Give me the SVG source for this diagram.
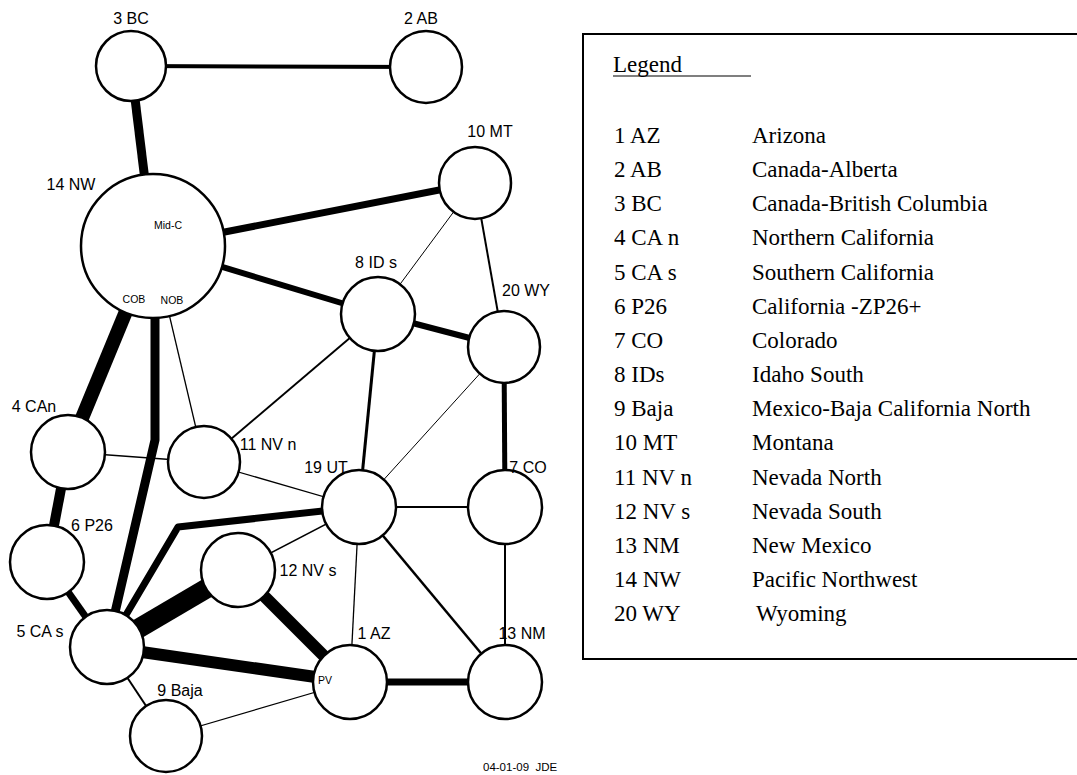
<svg xmlns="http://www.w3.org/2000/svg" width="1077" height="775" viewBox="0 0 1077 775">
<style>
.n{fill:#fff;stroke:#000;stroke-width:2.5}
.lb{font-family:"Liberation Sans",Arial,sans-serif;font-size:16px;fill:#000}
.sm{font-family:"Liberation Sans",Arial,sans-serif;font-size:10.5px;fill:#000}
.e{fill:none;stroke:#000;stroke-linejoin:round}
.lg{font-family:"Liberation Serif","Times New Roman",serif;font-size:23px;fill:#000}
</style>
<rect width="1077" height="775" fill="#fff"/>
<g id="connectors">
<line class="e" x1="131" y1="66" x2="426" y2="67" stroke-width="4"/>
<line class="e" x1="131" y1="66" x2="153" y2="246" stroke-width="9"/>
<line class="e" x1="153" y1="246" x2="475" y2="183" stroke-width="7"/>
<line class="e" x1="153" y1="246" x2="378" y2="314" stroke-width="6"/>
<line class="e" x1="475" y1="183" x2="378" y2="314" stroke-width="1"/>
<line class="e" x1="475" y1="183" x2="504" y2="347" stroke-width="2"/>
<line class="e" x1="378" y1="314" x2="504" y2="347" stroke-width="6"/>
<line class="e" x1="378" y1="314" x2="204" y2="462" stroke-width="2"/>
<line class="e" x1="378" y1="314" x2="359" y2="507" stroke-width="3"/>
<line class="e" x1="504" y1="347" x2="359" y2="507" stroke-width="1"/>
<line class="e" x1="504" y1="347" x2="505" y2="507" stroke-width="5"/>
<line class="e" x1="153" y1="246" x2="68" y2="452" stroke-width="14"/>
<polyline class="e" points="155,300 155,440 107,647" stroke-width="9"/>
<line class="e" x1="153" y1="246" x2="204" y2="462" stroke-width="1.3"/>
<line class="e" x1="68" y1="452" x2="204" y2="462" stroke-width="1.3"/>
<line class="e" x1="68" y1="452" x2="47" y2="562" stroke-width="10"/>
<line class="e" x1="47" y1="562" x2="107" y2="647" stroke-width="7"/>
<line class="e" x1="204" y1="462" x2="359" y2="507" stroke-width="1.3"/>
<line class="e" x1="359" y1="507" x2="505" y2="507" stroke-width="2"/>
<line class="e" x1="359" y1="507" x2="238" y2="570" stroke-width="1.5"/>
<line class="e" x1="359" y1="507" x2="350" y2="682" stroke-width="1.3"/>
<line class="e" x1="359" y1="507" x2="505" y2="682" stroke-width="2.5"/>
<line class="e" x1="505" y1="507" x2="505" y2="682" stroke-width="2"/>
<polyline class="e" points="107,647 178,527 359,507" stroke-width="7"/>
<line class="e" x1="107" y1="647" x2="238" y2="570" stroke-width="20"/>
<line class="e" x1="238" y1="570" x2="350" y2="682" stroke-width="12"/>
<line class="e" x1="107" y1="647" x2="350" y2="682" stroke-width="12"/>
<line class="e" x1="350" y1="682" x2="505" y2="682" stroke-width="7"/>
<line class="e" x1="107" y1="647" x2="166" y2="736" stroke-width="2"/>
<line class="e" x1="166" y1="736" x2="350" y2="682" stroke-width="1.3"/>
</g>
<g id="n3"><circle class="n" cx="131" cy="66" r="35"/><text class="lb" x="131" y="24" text-anchor="middle">3 BC</text></g>
<g id="n2"><circle class="n" cx="426" cy="67" r="36"/><text class="lb" x="421" y="24" text-anchor="middle">2 AB</text></g>
<g id="n10"><circle class="n" cx="475" cy="183" r="36"/><text class="lb" x="490" y="137" text-anchor="middle">10 MT</text></g>
<g id="n14"><circle class="n" cx="153" cy="246" r="72"/><text class="lb" x="71" y="190" text-anchor="middle">14 NW</text>
<text class="sm" x="168" y="229" text-anchor="middle">Mid-C</text>
<text class="sm" x="134" y="303" text-anchor="middle">COB</text>
<text class="sm" x="172" y="304" text-anchor="middle">NOB</text></g>
<g id="n8"><circle class="n" cx="378" cy="314" r="37"/><text class="lb" x="376" y="268" text-anchor="middle">8 ID s</text></g>
<g id="n20"><circle class="n" cx="504" cy="347" r="36"/><text class="lb" x="526" y="296" text-anchor="middle">20 WY</text></g>
<g id="n4"><circle class="n" cx="68" cy="452" r="37"/><text class="lb" x="34" y="412" text-anchor="middle">4 CAn</text></g>
<g id="n11"><circle class="n" cx="204" cy="462" r="36"/><text class="lb" x="268" y="450" text-anchor="middle">11 NV n</text></g>
<g id="n19"><circle class="n" cx="359" cy="507" r="37"/><text class="lb" x="326" y="473" text-anchor="middle">19 UT</text></g>
<g id="n7"><circle class="n" cx="505" cy="507" r="37"/><text class="lb" x="528" y="473" text-anchor="middle">7 CO</text></g>
<g id="n6"><circle class="n" cx="47" cy="562" r="37"/><text class="lb" x="92" y="531" text-anchor="middle">6 P26</text></g>
<g id="n12"><circle class="n" cx="238" cy="570" r="37"/><text class="lb" x="308" y="576" text-anchor="middle">12 NV s</text></g>
<g id="n5"><circle class="n" cx="107" cy="647" r="37"/><text class="lb" x="40" y="637" text-anchor="middle">5 CA s</text></g>
<g id="n1"><circle class="n" cx="350" cy="682" r="37"/><text class="lb" x="374" y="639" text-anchor="middle">1 AZ</text>
<text class="sm" x="325" y="684" text-anchor="middle">PV</text></g>
<g id="n13"><circle class="n" cx="505" cy="682" r="37"/><text class="lb" x="522" y="639" text-anchor="middle">13 NM</text></g>
<g id="n9"><circle class="n" cx="166" cy="736" r="36"/><text class="lb" x="180" y="696" text-anchor="middle">9 Baja</text></g>
<text class="sm" x="483" y="771" style="font-size:11.5px" xml:space="preserve">04-01-09  JDE</text>
<g id="legend">
<path d="M1080,34 H583 V659 H1080" fill="none" stroke="#000" stroke-width="2"/>
<text class="lg" x="613" y="72">Legend</text>
<line x1="613" y1="76" x2="751" y2="76" stroke="#000" stroke-width="1.2"/>
<g class="lg">
<text x="614" y="143">1 AZ</text><text x="752" y="143">Arizona</text>
<text x="614" y="177">2 AB</text><text x="752" y="177">Canada-Alberta</text>
<text x="614" y="211">3 BC</text><text x="752" y="211">Canada-British Columbia</text>
<text x="614" y="245">4 CA n</text><text x="752" y="245">Northern California</text>
<text x="614" y="280">5 CA s</text><text x="752" y="280">Southern California</text>
<text x="614" y="314">6 P26</text><text x="752" y="314">California -ZP26+</text>
<text x="614" y="348">7 CO</text><text x="752" y="348">Colorado</text>
<text x="614" y="382">8 IDs</text><text x="752" y="382">Idaho South</text>
<text x="614" y="416">9 Baja</text><text x="752" y="416">Mexico-Baja California North</text>
<text x="614" y="450">10 MT</text><text x="752" y="450">Montana</text>
<text x="614" y="485">11 NV n</text><text x="752" y="485">Nevada North</text>
<text x="614" y="519">12 NV s</text><text x="752" y="519">Nevada South</text>
<text x="614" y="553">13 NM</text><text x="752" y="553">New Mexico</text>
<text x="614" y="587">14 NW</text><text x="752" y="587">Pacific Northwest</text>
<text x="614" y="621">20 WY</text><text x="756" y="621">Wyoming</text>
</g>
</g>
</svg>
